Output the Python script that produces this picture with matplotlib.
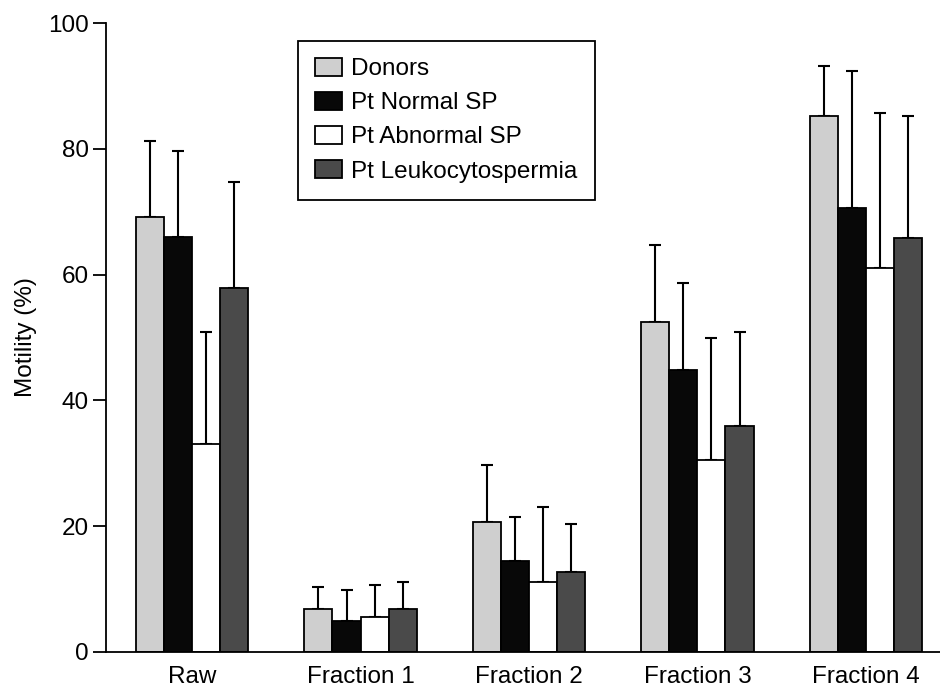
import numpy as np
import matplotlib
matplotlib.use("Agg")
import matplotlib.pyplot as plt

plt.rcParams["font.family"] = ["Liberation Sans", "DejaVu Sans"]

groups = ["Raw", "Fraction 1", "Fraction 2", "Fraction 3", "Fraction 4"]
series = ["Donors", "Pt Normal SP", "Pt Abnormal SP", "Pt Leukocytospermia"]
colors = ["#cfcfcf", "#080808", "#ffffff", "#4a4a4a"]

donors = [69.1, 6.8, 20.7, 52.4, 85.2]
normal_sp = [65.9, 5.0, 14.5, 44.8, 70.6]
abnormal_sp = [33.1, 5.6, 11.2, 30.5, 61.0]
leuko = [57.9, 6.8, 12.7, 35.9, 65.8]

donors_err = [12.1, 3.5, 9.0, 12.3, 8.0]
normal_sp_err = [13.8, 4.8, 6.9, 13.9, 21.7]
abnormal_sp_err = [17.7, 5.1, 11.9, 19.5, 24.7]
leuko_err = [16.8, 4.4, 7.7, 14.9, 19.4]

means = [donors, normal_sp, abnormal_sp, leuko]
errs = [donors_err, normal_sp_err, abnormal_sp_err, leuko_err]

fs = 17.5

fig = plt.figure(figsize=(9.4, 6.9), dpi=100)
ax = fig.add_axes([106 / 940, 1 - 652 / 690, 1 - 106 / 940, (652 - 23) / 690])

x = np.arange(len(groups))
w = 0.1665
for i, (m, e) in enumerate(zip(means, errs)):
    pos = x + (i - 1.5) * w
    ax.bar(pos, m, width=w, color=colors[i], edgecolor="black",
           linewidth=1.3, label=series[i], zorder=2)
    ax.errorbar(pos, m, yerr=[np.zeros(len(m)), e], fmt="none",
                ecolor="black", elinewidth=1.5, capsize=4.5, capthick=1.5,
                zorder=1)

ax.set_ylim(0, 100)
ax.set_xlim(-0.511, 4.44)
ax.set_yticks([0, 20, 40, 60, 80, 100])
ax.set_xticks(x)
ax.set_xticklabels(groups)
ax.tick_params(axis="y", direction="out", length=9.5, width=1.3, labelsize=fs, pad=3)
ax.tick_params(axis="x", length=0, labelsize=fs, pad=10)
ax.set_ylabel("Motility (%)", fontsize=fs, labelpad=8)

for s in ["top", "right"]:
    ax.spines[s].set_visible(False)
ax.spines["left"].set_linewidth(1.3)
ax.spines["bottom"].set_linewidth(1.3)

leg = fig.legend(loc="upper left", bbox_to_anchor=(298 / 940, 1 - 41 / 690),
                 borderaxespad=0, fancybox=False, edgecolor="black",
                 fontsize=fs, handlelength=1.1, handleheight=0.75,
                 handletextpad=0.4, labelspacing=0.48, borderpad=0.7,
                 framealpha=1)
leg.get_frame().set_linewidth(1.3)

fig.savefig("out.png", dpi=100)
